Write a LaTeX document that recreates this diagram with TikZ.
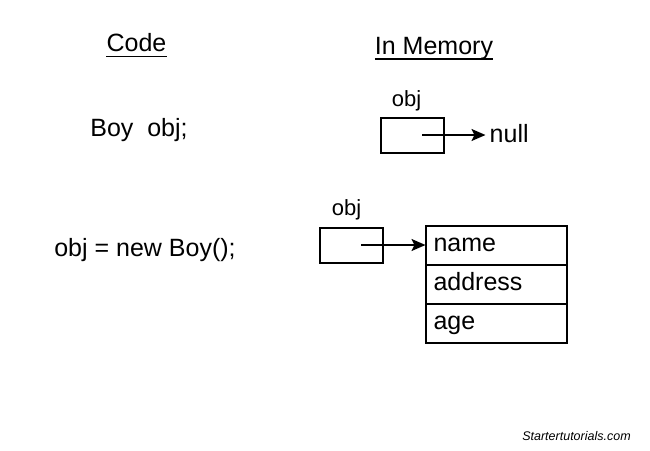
\documentclass[tikz,border=0pt]{standalone}
\usepackage{fontspec}
\setmainfont{Liberation Sans}
\usetikzlibrary{positioning,arrows.meta}

\tikzset{
  lbl/.style={font=\fontsize{25}{29}\selectfont, inner sep=0pt},
  varname/.style={font=\fontsize{22}{26}\selectfont, inner sep=0pt},
  refbox/.style={draw, line width=2pt, minimum width=63pt, minimum height=35pt, inner sep=0pt},
  field/.style={draw, line width=2pt, minimum width=141pt, minimum height=39pt,
    inner sep=0pt, outer sep=0pt, font=\fontsize{25}{29}\selectfont,
    text height=17pt, text depth=5pt, text width=125pt, align=left},
  ptr/.style={-{Stealth[length=14pt,width=12pt,inset=3pt]}, line width=2pt}
}

\begin{document}
\begin{tikzpicture}[x=1pt,y=-1pt]
\useasboundingbox (0,0) rectangle (650,450);
% headings
\node[lbl, anchor=base] (code) at (136.5,51.5) {Code};
\node[lbl, anchor=base] (mem) at (434,54) {In Memory};
\draw[line width=1.6pt] ([yshift=-5pt]code.base west) -- ([yshift=-5pt]code.base east);
\draw[line width=1.6pt] ([yshift=-5pt]mem.base west) -- ([yshift=-5pt]mem.base east);

% declaration only
\node[lbl, anchor=base] (decl) at (139,136.5) {Boy\ \ obj;};
\node[refbox] (box1) at (412.5,135) {};
\node[varname, above=5.5pt of box1, xshift=-6pt] (var1) {obj};
\node[lbl, inner xsep=4pt, anchor=base west] (null) at (485.5,142) {null};
\coordinate (p1) at (422,135);
\draw[ptr] (p1) -- (p1 -| null.west);

% object created
\node[lbl, anchor=base] (assign) at (145,256.5) {obj = new Boy();};
\node[refbox] (box2) at (351.5,245) {};
\node[varname, above=6.5pt of box2, xshift=-5pt] (var2) {obj};
\node[field] (name) at (496,245.5) {name};
\node[field, below=0pt of name] (addr) {address};
\node[field, below=0pt of addr] (age) {age};
\coordinate (p2) at (361,245);
\draw[ptr] (p2) -- (p2 -| name.west);

\node[font=\itshape\fontsize{12.5}{15}\selectfont, inner sep=0pt, anchor=base] (site) at (576.5,440) {Startertutorials.com};
\end{tikzpicture}
\end{document}
